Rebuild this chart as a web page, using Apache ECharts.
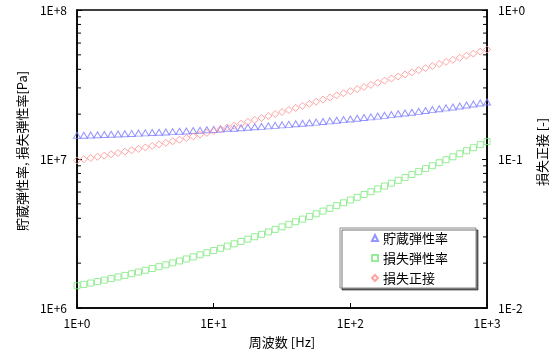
<!DOCTYPE html>
<html><head><meta charset="utf-8">
<script src="https://cdn.jsdelivr.net/npm/echarts@6/dist/echarts.min.js"></script>
<style>html,body{margin:0;padding:0;background:#fff}#c{width:557px;height:357px}</style>
</head><body><div id="c"></div>
<script>
const freq = [1, 1.122, 1.259, 1.413, 1.585, 1.778, 1.995, 2.239, 2.512, 2.818,
  3.162, 3.548, 3.981, 4.467, 5.012, 5.623, 6.310, 7.079, 7.943, 8.913,
  10, 11.22, 12.59, 14.13, 15.85, 17.78, 19.95, 22.39, 25.12, 28.18,
  31.62, 35.48, 39.81, 44.67, 50.12, 56.23, 63.10, 70.79, 79.43, 89.13,
  100, 112.2, 125.9, 141.3, 158.5, 177.8, 199.5, 223.9, 251.2, 281.8,
  316.2, 354.8, 398.1, 446.7, 501.2, 562.3, 631.0, 707.9, 794.3, 891.3, 1000];
const storageModulus = [1.440e7, 1.445e7, 1.450e7, 1.455e7, 1.461e7, 1.466e7, 1.472e7, 1.478e7, 1.485e7, 1.491e7,
  1.498e7, 1.505e7, 1.512e7, 1.519e7, 1.527e7, 1.535e7, 1.543e7, 1.552e7, 1.561e7, 1.570e7,
  1.579e7, 1.589e7, 1.599e7, 1.610e7, 1.621e7, 1.632e7, 1.644e7, 1.656e7, 1.668e7, 1.681e7,
  1.695e7, 1.708e7, 1.723e7, 1.738e7, 1.753e7, 1.769e7, 1.785e7, 1.803e7, 1.820e7, 1.838e7,
  1.857e7, 1.877e7, 1.897e7, 1.918e7, 1.940e7, 1.962e7, 1.986e7, 2.010e7, 2.035e7, 2.061e7,
  2.087e7, 2.115e7, 2.144e7, 2.173e7, 2.204e7, 2.236e7, 2.269e7, 2.303e7, 2.338e7, 2.374e7, 2.412e7];
const lossModulus = [1.410e6, 1.440e6, 1.471e6, 1.504e6, 1.539e6, 1.576e6, 1.615e6, 1.655e6, 1.698e6, 1.743e6,
  1.791e6, 1.841e6, 1.894e6, 1.949e6, 2.008e6, 2.069e6, 2.134e6, 2.203e6, 2.275e6, 2.350e6,
  2.430e6, 2.514e6, 2.603e6, 2.696e6, 2.794e6, 2.898e6, 3.007e6, 3.121e6, 3.242e6, 3.369e6,
  3.503e6, 3.645e6, 3.793e6, 3.950e6, 4.115e6, 4.288e6, 4.471e6, 4.664e6, 4.867e6, 5.080e6,
  5.305e6, 5.535e6, 5.778e6, 6.033e6, 6.301e6, 6.583e6, 6.880e6, 7.192e6, 7.521e6, 7.866e6,
  8.230e6, 8.612e6, 9.015e6, 9.438e6, 9.884e6, 1.035e7, 1.085e7, 1.136e7, 1.191e7, 1.248e7, 1.309e7];
const lossTangent = [0.0979, 0.0997, 0.1015, 0.1034, 0.1054, 0.1075, 0.1097, 0.1120, 0.1144, 0.1169,
  0.1196, 0.1223, 0.1253, 0.1283, 0.1315, 0.1348, 0.1383, 0.1419, 0.1457, 0.1497,
  0.1539, 0.1582, 0.1627, 0.1675, 0.1724, 0.1776, 0.1829, 0.1885, 0.1944, 0.2004,
  0.2067, 0.2133, 0.2202, 0.2273, 0.2347, 0.2424, 0.2504, 0.2587, 0.2674, 0.2763,
  0.2856, 0.2949, 0.3046, 0.3145, 0.3248, 0.3355, 0.3465, 0.3579, 0.3696, 0.3817,
  0.3943, 0.4072, 0.4206, 0.4343, 0.4485, 0.4630, 0.4781, 0.4935, 0.5094, 0.5258, 0.5425];
const seriesNames = ['貯蔵弾性率', '損失弾性率', '損失正接'];
const xTickLabels = {0: '1E+0', 1: '1E+1', 2: '1E+2', 3: '1E+3'};
const leftTickLabels = {6: '1E+6', 7: '1E+7', 8: '1E+8'};
const rightTickLabels = {'-2': '1E-2', '-1': '1E-1', '0': '1E+0'};
const leftMinorTicks = [2e6, 3e6, 4e6, 5e6, 6e6, 7e6, 8e6, 9e6, 2e7, 3e7, 4e7, 5e7, 6e7, 7e7, 8e7, 9e7];
const rightMinorTicks = [0.02, 0.03, 0.04, 0.05, 0.06, 0.07, 0.08, 0.09, 0.2, 0.3, 0.4, 0.5, 0.6, 0.7, 0.8, 0.9];

const FONT = '"Noto Sans CJK JP", sans-serif';
const lab = (m) => (v) => m[Math.round(Math.log10(v))] || '';
const axisCommon = {
  axisLine: {show: true, lineStyle: {color: '#000', width: 1.5}},
  axisTick: {show: true, inside: true, length: 5, lineStyle: {color: '#000', width: 1}},
  splitLine: {show: false}
};
function tickSeries(vals, xv, yIdx, dir) {
  return {
    type: 'custom', yAxisIndex: yIdx, silent: true, clip: false, z: 5,
    data: vals.map(v => [xv, v]),
    renderItem: function (params, api) {
      const p = api.coord([api.value(0), api.value(1)]);
      return {type: 'line', shape: {x1: p[0], y1: p[1], x2: p[0] + dir * 4, y2: p[1]},
        style: {stroke: '#000', lineWidth: 1}};
    }
  };
}
const chart = echarts.init(document.getElementById('c'));
chart.setOption({
  animation: false,
  backgroundColor: '#fff',
  grid: {left: 77, right: 67, top: 10, bottom: 49, show: true, borderColor: '#000', borderWidth: 1.5, backgroundColor: 'transparent'},
  legend: {
    left: 340, top: 228, orient: 'vertical',
    padding: [3, 28, 3, 31], itemGap: 6, itemWidth: 6, itemHeight: 6,
    backgroundColor: '#fff', borderColor: '#888', borderWidth: 1,
    shadowColor: 'rgba(0,0,0,0.55)', shadowBlur: 0, shadowOffsetX: 2, shadowOffsetY: 2,
    textStyle: {fontFamily: FONT, fontSize: 13, color: '#000', lineHeight: 14},
    data: seriesNames
  },
  xAxis: Object.assign({}, axisCommon, {
    type: 'log', logBase: 10, min: 1, max: 1000, interval: 1,
    name: '周波数 [Hz]', nameLocation: 'middle', nameGap: 28,
    nameTextStyle: {fontFamily: FONT, fontSize: 13, color: '#000'},
    minorTick: {show: false},
    axisLabel: {fontFamily: FONT, fontSize: 12, color: '#000', margin: 9, formatter: lab(xTickLabels)}
  }),
  yAxis: [
    Object.assign({}, axisCommon, {
      type: 'log', logBase: 10, min: 1e6, max: 1e8, interval: 1, position: 'left',
      name: '貯蔵弾性率, 損失弾性率[Pa]', nameLocation: 'middle', nameGap: 46, nameRotate: 90,
      nameTextStyle: {fontFamily: FONT, fontSize: 13, color: '#000', padding: [0, 0, 0, 16]},
      axisLabel: {fontFamily: FONT, fontSize: 12, color: '#000', margin: 10, formatter: lab(leftTickLabels)}
    }),
    Object.assign({}, axisCommon, {
      type: 'log', logBase: 10, min: 0.01, max: 1, interval: 1, position: 'right',
      name: '損失正接 [-]', nameLocation: 'middle', nameGap: 37, nameRotate: 90,
      nameTextStyle: {fontFamily: FONT, fontSize: 13, color: '#000', padding: [0, 0, 0, 14]},
      axisLabel: {fontFamily: FONT, fontSize: 12, color: '#000', margin: 11, formatter: lab(rightTickLabels)}
    })
  ],
  series: [
    {name: seriesNames[0], type: 'scatter', yAxisIndex: 0, symbol: 'triangle', symbolSize: [7, 6],
      itemStyle: {color: 'rgba(255,255,255,0)', borderColor: '#7b7bff', borderWidth: 1},
      data: freq.map((f, i) => [f, storageModulus[i]])},
    {name: seriesNames[1], type: 'scatter', yAxisIndex: 0, symbol: 'rect', symbolSize: 6,
      itemStyle: {color: 'rgba(255,255,255,0)', borderColor: '#7de87d', borderWidth: 1},
      data: freq.map((f, i) => [f, lossModulus[i]])},
    {name: seriesNames[2], type: 'scatter', yAxisIndex: 1, symbol: 'diamond', symbolSize: 7,
      itemStyle: {color: 'rgba(255,255,255,0)', borderColor: '#ff8c8c', borderWidth: 1},
      data: freq.map((f, i) => [f, lossTangent[i]])},
    tickSeries(leftMinorTicks, freq[0], 0, 1),
    tickSeries(rightMinorTicks, freq[freq.length - 1], 1, -1)
  ]
});
</script></body></html>
